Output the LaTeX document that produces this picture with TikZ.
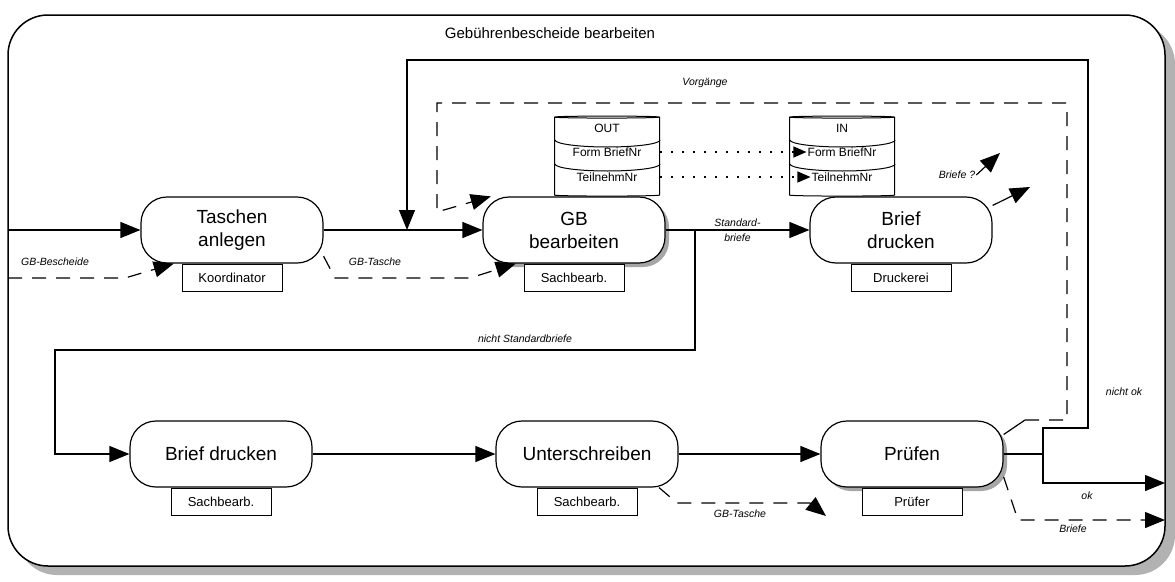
\documentclass[tikz,border=0pt]{standalone}
\usepackage{fontspec}
\setmainfont{Liberation Sans}
\usetikzlibrary{positioning}
\usetikzlibrary{arrows.meta}
\usetikzlibrary{shapes.geometric}
\usetikzlibrary{shadows}
\tikzset{
    proc/.style={
        rectangle,
        rounded corners=26pt,
        draw, line width=1.2pt,
        fill=white,
        minimum width=182pt,
        minimum height=66pt,
        inner sep=0pt,
        align=center,
        font=\fontsize{19}{23}\selectfont},
    shade/.style={
        drop shadow={shadow xshift=4pt, shadow yshift=-4pt,
            fill=gray!70, opacity=1}},
    role/.style={
        draw, line width=1pt,
        fill=white,
        minimum width=100pt,
        minimum height=27pt,
        inner sep=2pt,
        font=\fontsize{13}{15}\selectfont},
    db/.style={
        cylinder,
        shape border rotate=90,
        aspect=0.3,
        draw, line width=1pt,
        fill=white,
        minimum width=105pt,
        minimum height=80pt},
    dbtext/.style={font=\fontsize{12}{14}\selectfont, inner sep=1pt},
    lbl/.style={font=\fontsize{10.5}{12}\selectfont\itshape, inner sep=1pt},
    flow/.style={
        draw, line width=1.2pt,
        -{Triangle[length=20pt,width=16pt]}},
    dflow/.style={flow, dash pattern=on 14pt off 10pt},
    dotflow/.style={
        draw, line width=1.2pt,
        dash pattern=on 2pt off 9pt,
        -{Triangle[length=13pt,width=11pt]}}}

\begin{document}
\begin{tikzpicture}[x=1pt,y=-1pt]
    \useasboundingbox (0,0) rectangle (1175,581);
    % frame with shadow
    \fill[gray!60, rounded corners=40pt] (17,24) rectangle (1175,575);
    \draw[line width=1.5pt, fill=white, rounded corners=40pt] (8,15) rectangle (1165,566);
    \node[font=\fontsize{15}{17}\selectfont] (title) at (550,33) {Gebührenbescheide bearbeiten};

    % processes
    \node[proc] (tasche) at (232,230) {Taschen\\anlegen};
    \node[role, below=0pt of tasche] (koord) {Koordinator};
    \node[proc, shade] (gb) at (574,230) {GB\\bearbeiten};
    \node[role, below=0pt of gb] (sb1) {Sachbearb.};
    \node[proc] (brief1) at (901,230) {Brief\\drucken};
    \node[role, below=0pt of brief1] (druck) {Druckerei};
    \node[proc] (brief2) at (221,454) {Brief drucken};
    \node[role, below=0pt of brief2] (sb2) {Sachbearb.};
    \node[proc] (unter) at (587,454) {Unterschreiben};
    \node[role, below=0pt of unter] (sb3) {Sachbearb.};
    \node[proc, shade] (pruef) at (912,454) {Prüfen};
    \node[role, below=0pt of pruef] (pruefer) {Prüfer};

    % data stores
    \node[db] (outdb) at (607,157) {};
    \node[dbtext] (outlbl) at (607,128) {OUT};
    \node[dbtext] (outform) at (607,152) {Form BriefNr};
    \node[dbtext] (outteil) at (607,177) {TeilnehmNr};
    \draw[line width=1pt] (555,140) arc[start angle=180, end angle=0, x radius=52.5, y radius=7];
    \draw[line width=1pt] (555,164) arc[start angle=180, end angle=0, x radius=52.5, y radius=7];
    \node[db] (indb) at (842,157) {};
    \node[dbtext] (inlbl) at (842,128) {IN};
    \node[dbtext] (inform) at (842,152) {Form BriefNr};
    \node[dbtext] (inteil) at (842,177) {TeilnehmNr};
    \draw[line width=1pt] (790,140) arc[start angle=180, end angle=0, x radius=52.5, y radius=7];
    \draw[line width=1pt] (790,164) arc[start angle=180, end angle=0, x radius=52.5, y radius=7];
    \draw[dotflow] (outdb.east |- outform) -- (inform.west);
    \draw[dotflow] (outdb.east |- outteil) -- (inteil.west);

    % main flow
    \coordinate (src) at (8,230);
    \coordinate (join) at (407,230);
    \coordinate (split) at (695,230);
    \coordinate (turn) at (55,350);
    \coordinate (dec) at (1043,454);
    \coordinate (nok) at (1088,428);
    \coordinate (top) at (1088,60);
    \coordinate (okend) at (1165,483);
    \draw[flow] (src) -- (tasche);
    \draw[flow] (tasche) -- (gb);
    \draw[flow] (gb) -- node[lbl, align=center] {Standard-\\[3pt]briefe} (brief1);
    \draw[flow] (split) |- (turn) |- (brief2);
    \node[lbl] (nsb) at (525,339) {nicht Standardbriefe};
    \draw[flow] (brief2) -- (unter);
    \draw[flow] (unter) -- (pruef);
    \draw[line width=1.2pt] (pruef) -- (dec);
    \draw[flow] (dec) |- (nok) -- (top) -| (join);
    \node[lbl] (noklbl) at (1124,392) {nicht ok};
    \draw[flow] (dec) |- (okend);
    \node[lbl] (oklbl) at (1087,496) {ok};

    % dashed flows
    \coordinate (bsin) at (8,278);
    \draw[dflow] (bsin) -- (125,278) -- (tasche.-150);
    \node[lbl] (bslbl) at (55,262) {GB-Bescheide};
    \draw[dflow] (tasche.-16) -- (335,278) -- (470,278) -- (gb.-150);
    \node[lbl] (gbt1) at (375,262) {GB-Tasche};
    \coordinate (vstub) at (1025,420);
    \draw[line width=1.2pt] (pruef.12) -- (vstub);
    \draw[dflow] (vstub) -- (1067,420) -- (1067,103) -- (437,103) -- (437,212) -- (gb.158);
    \node[lbl] (vorg) at (705,83) {Vorgänge};
    \coordinate (gbt2end) at (826,516);
    \draw[dflow] (unter.-25) -- (677,503) -- (810,503) -- (gbt2end);
    \node[lbl] (gbt2) at (740,514) {GB-Tasche};
    \coordinate (brend) at (1165,520);
    \draw[dflow] (pruef.-14) -- (1018,520) -- (brend);
    \node[lbl] (brlbl) at (1073,529) {Briefe};

    % outputs of Brief drucken
    \coordinate (bout) at (1030,187);
    \draw[flow] (brief1.15) -- (bout);
    \node[lbl] (bqlbl) at (957,175) {Briefe ?};
    \coordinate (bq) at (1000,153);
    \draw[flow] (bqlbl.east) -- (bq);
\end{tikzpicture}
\end{document}
